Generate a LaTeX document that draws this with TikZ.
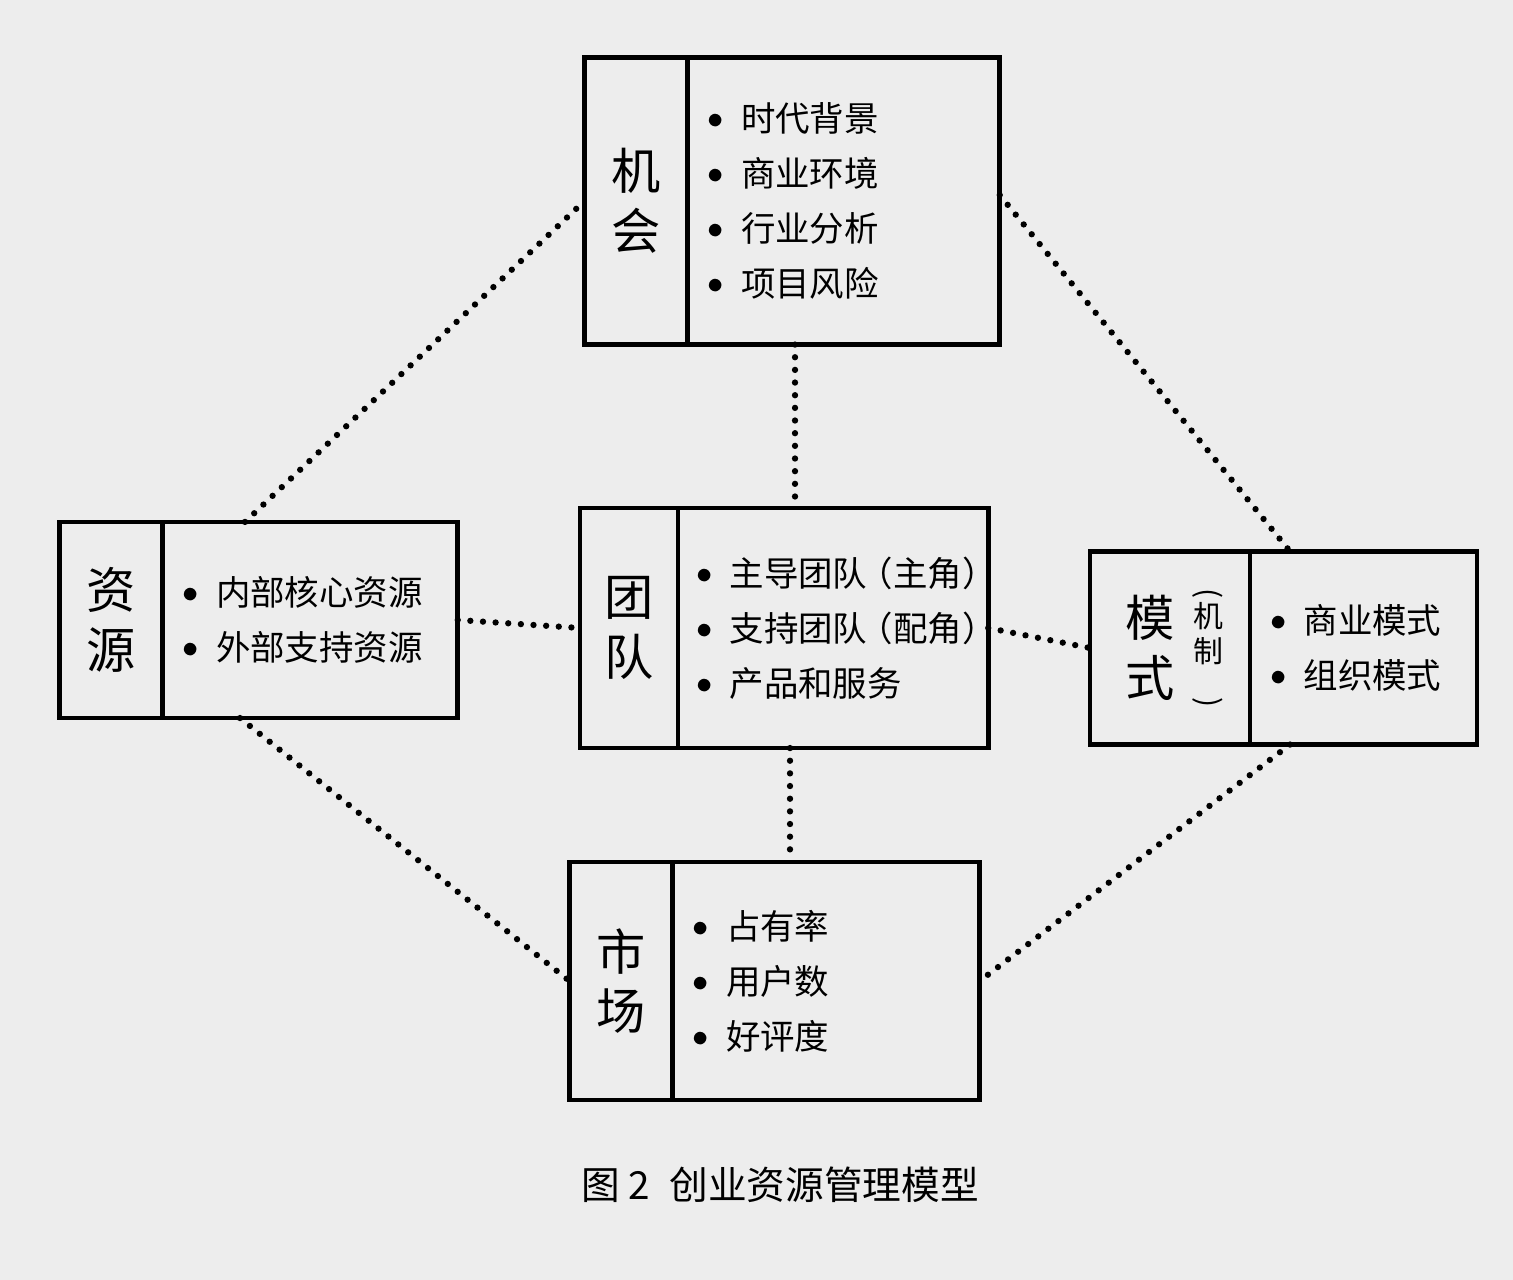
\documentclass[tikz,border=0pt]{standalone}
\usepackage{fontspec}
\setmainfont{Noto Sans CJK SC}
\usetikzlibrary{positioning}

\begin{document}
\begin{tikzpicture}[x=0.01cm,y=-0.01cm]
	\tikzset{headbox/.style = {shape=rectangle,draw,line width=1.3pt,outer sep=0pt,
			inner sep=0pt,align=center,font=\fontsize{14}{17}\selectfont}}
	\tikzset{listbox/.style = {shape=rectangle,draw,line width=1.3pt,outer sep=0pt,
			inner xsep=0.2cm,align=left,font=\fontsize{9.8}{15.6}\selectfont}}
	\tikzset{link/.style = {line width=1.8pt,line cap=round,dash pattern=on 0pt off 3.6pt}}
	\newcommand{\itm}[1]{\mbox{\raisebox{0.15ex}{\small$\bullet$}\hspace{0.5em}#1}}
	
	% page
	\fill[black!7] (0,0) rectangle (1513,1280);
	
	% boxes
	\node[headbox, minimum width=1.03cm, minimum height=2.87cm] (jh) at (636,201) {机\\会};
	\node[listbox, right=0pt of jh, minimum width=3.12cm, minimum height=2.87cm, text width=2.72cm] (jhl)
		{\itm{时代背景}\\\itm{商业环境}\\\itm{行业分析}\\\itm{项目风险}};
	
	\node[headbox, minimum width=1.03cm, minimum height=1.96cm] (zy) at (111,620) {资\\源};
	\node[listbox, right=0pt of zy, minimum width=2.95cm, minimum height=1.96cm, text width=2.55cm] (zyl)
		{\itm{内部核心资源}\\\itm{外部支持资源}};
	
	\node[headbox, minimum width=0.98cm, minimum height=2.4cm] (td) at (629,628) {团\\队};
	\node[listbox, right=0pt of td, inner xsep=0.18cm, minimum width=3.1cm, minimum height=2.4cm, text width=2.74cm] (tdl)
		{\itm{主导团队\kern-0.25em（主角）}\\\itm{支持团队\kern-0.25em（配角）}\\\itm{产品和服务}};
	
	\node[headbox, minimum width=1.6cm, minimum height=1.93cm] (ms) at (1170,648) {};
	\node[headbox, draw=none] (msh) at ([xshift=-0.2cm]ms.center) {模\\式};
	\node[align=center, inner sep=0pt, font=\fontsize{8.5}{10}\selectfont] (msj) at ([xshift=0.38cm]ms.center)
		{\rotatebox{-90}{(}\\机\\制\\\rotatebox{-90}{)}};
	\node[listbox, right=0pt of ms, minimum width=2.27cm, minimum height=1.93cm, text width=1.87cm] (msl)
		{\itm{商业模式}\\\itm{组织模式}};
	
	\node[headbox, minimum width=1.03cm, minimum height=2.38cm] (sc) at (621,981) {市\\场};
	\node[listbox, right=0pt of sc, minimum width=3.07cm, minimum height=2.38cm, text width=2.67cm] (scl)
		{\itm{占有率}\\\itm{用户数}\\\itm{好评度}};
	
	% links
	\draw[link] (jhl.south -| 795,0) -- (tdl.north -| 795,0);
	\draw[link] (zyl.east) -- (td.west);
	\draw[link] (tdl.east) -- (ms.west);
	\draw[link] (tdl.south -| 790,0) -- (scl.north -| 790,0);
	\draw[link] (zyl.north -| 245,0) -- (jh.west);
	\draw[link] (jhl.east |- 0,195) -- (msl.north west -| 1290,0);
	\draw[link] (zyl.south -| 240,0) -- (sc.west);
	\draw[link] (msl.south west -| 1290,0) -- (scl.east);
	
	\node[font=\fontsize{11}{13}\selectfont] (cap) at (780,1185) {图 2\enspace 创业资源管理模型};
\end{tikzpicture}
\end{document}
